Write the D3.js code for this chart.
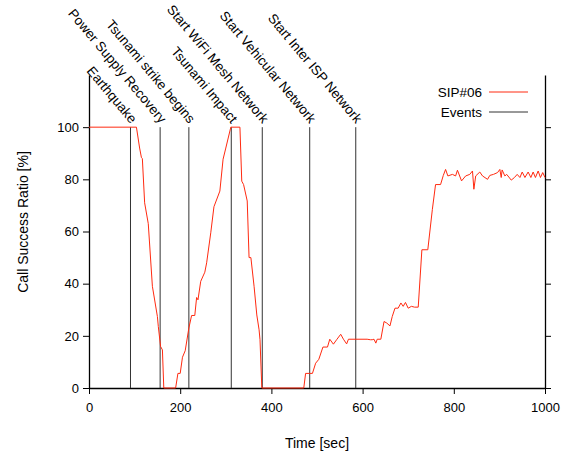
<!DOCTYPE html>
<html>
<head>
<meta charset="utf-8">
<script src="https://cdn.jsdelivr.net/npm/d3@7"></script>
<style>
  body { margin: 0; background: #fff; }
  svg { font-family: "Liberation Sans", Arial, sans-serif; font-size: 13.5px; }
  .axis path, .axis line { stroke: #000; }
  .axis text { font-size: 13px; fill: #000; }
  .title { font-size: 14px; }
</style>
</head>
<body>
<script>
// SIP#06 call success ratio
let sipTime = [0, 104, 111, 115, 117, 122, 130, 139, 150, 152, 157, 161, 164, 190,
  195, 200, 205, 211, 219, 225, 232, 236, 239, 245, 254, 258, 267, 274, 287, 294, 300, 311,
  331, 335, 339, 347, 351, 355, 362, 368, 373, 375, 379, 471,
  475, 490, 497, 504, 513, 523, 528, 536, 543, 552, 558, 565, 569, 610, 617, 621, 625, 629, 632,
  640, 647, 653, 660, 665, 671, 678, 684, 689, 694, 700, 707, 714, 722,
  730, 743, 753, 760, 771, 777, 782, 787, 797, 804, 808, 817, 826, 835, 841, 844, 848,
  857, 863, 874, 879, 887, 896, 901, 904, 906, 912, 916, 926, 933, 939, 945, 950,
  956, 963, 969, 974, 979, 985, 990, 995, 1000]
let sipValue = [100, 100, 92, 88.3, 88, 71, 63, 39, 27.4, 23.6, 15.9, 14.6, 0, 0,
  5.6, 5.6, 11.8, 14.3, 23, 27.8, 27.8, 34.7, 33.8, 40.9, 44.4, 48, 59.5, 69.5, 75.5, 87.7, 92, 100,
  100, 79.3, 78, 71.7, 50, 50, 39, 28, 22.3, 18.5, 0, 0,
  5.6, 5.6, 9.5, 11, 15.7, 15.7, 18.7, 16.8, 18.5, 20.6, 18.7, 16.9, 18.7, 18.7, 18.5, 18.5, 18.7, 17.2, 18.7,
  18.7, 25.5, 24.9, 23.8, 27.4, 30.6, 30.6, 32.6, 31.3, 32.8, 30.6, 31.3, 31, 31,
  53, 53, 68.5, 78, 78, 81.5, 83.8, 81.3, 81.9, 81.3, 83.5, 79.4, 81.3, 81.9, 83.2, 76.2, 81.3,
  82.8, 81.3, 80, 81.5, 81.9, 82.6, 83.8, 80.7, 83.6, 81.3, 81.9, 79.7, 80.7, 81.9, 80.7, 82.8,
  80.7, 82.8, 80.7, 82.8, 80.7, 83.2, 80.7, 82.6, 80.7]

let eventNames = ['Earthquake', 'Power Supply Recovery', 'Tsunami strike begins', 'Tsunami Impact',
  'Start WiFi Mesh Network', 'Start Vehicular Network', 'Start Inter ISP Network']
let eventTimes = [91, 156, 219, 312, 380, 484, 585]

let xTicks = [0, 200, 400, 600, 800, 1000]
let yTicks = [0, 20, 40, 60, 80, 100]

let W = 564, H = 455
let margin = {top: 75, right: 19, bottom: 67, left: 89}

let svg = d3.select('body').append('svg').attr('width', W).attr('height', H)

let x = d3.scaleLinear().domain([0, 1000]).range([margin.left, W - margin.right])
let y = d3.scaleLinear().domain([0, 120]).range([H - margin.bottom, margin.top])

// axes
svg.append('g').attr('class', 'axis')
  .attr('transform', 'translate(0,' + y(0) + ')')
  .call(d3.axisBottom(x).tickValues(xTicks).tickFormat(d3.format('d')).tickSize(6).tickSizeOuter(0).tickPadding(9))

svg.append('g').attr('class', 'axis')
  .attr('transform', 'translate(' + x(0) + ',0)')
  .call(d3.axisLeft(y).tickValues(yTicks).tickSize(6).tickSizeOuter(0).tickPadding(4))

svg.append('g').attr('class', 'axis')
  .attr('transform', 'translate(' + x(1000) + ',0)')
  .call(d3.axisRight(y).tickValues(yTicks).tickSize(6).tickSizeOuter(0).tickFormat(''))

svg.selectAll('.axis .domain').attr('stroke-width', 1.3)

// axis titles
svg.append('text').attr('class', 'title')
  .attr('x', (x(0) + x(1000)) / 2).attr('y', 448)
  .attr('text-anchor', 'middle').text('Time [sec]')

svg.append('text').attr('class', 'title')
  .attr('transform', 'translate(28,222) rotate(-90)')
  .attr('text-anchor', 'middle').text('Call Success Ratio [%]')

// event lines + labels
let events = eventTimes.map(function (t, i) { return {t: t, name: eventNames[i]} })

svg.append('g').selectAll('line').data(events).enter().append('line')
  .attr('x1', function (d) { return x(d.t) }).attr('x2', function (d) { return x(d.t) })
  .attr('y1', y(0)).attr('y2', y(100))
  .attr('stroke', '#333').attr('stroke-width', 1)

svg.append('g').selectAll('text').data(events).enter().append('text')
  .attr('transform', function (d) { return 'translate(' + (x(d.t) + 0) + ',' + (y(100) - 3) + ') rotate(50)' })
  .attr('text-anchor', 'end')
  .text(function (d) { return d.name })

// SIP#06 line
let sip = sipTime.map(function (t, i) { return [t, sipValue[i]] })

svg.append('path').datum(sip)
  .attr('fill', 'none').attr('stroke', '#ff2a10').attr('stroke-width', 1)
  .attr('d', d3.line().x(function (d) { return x(d[0]) }).y(function (d) { return y(d[1]) }))

// legend
let legend = [{l: 'SIP#06', c: '#ff2a10'}, {l: 'Events', c: '#333'}]
let lg = svg.append('g').selectAll('g').data(legend).enter().append('g')
  .attr('transform', function (d, i) { return 'translate(0,' + (92 + i * 20) + ')' })
lg.append('text').attr('x', 482).attr('y', 4.5).attr('text-anchor', 'end').text(function (d) { return d.l })
lg.append('line').attr('x1', 489).attr('x2', 528).attr('y1', 0).attr('y2', 0)
  .attr('stroke', function (d) { return d.c }).attr('stroke-width', 1)
</script>
</body>
</html>
